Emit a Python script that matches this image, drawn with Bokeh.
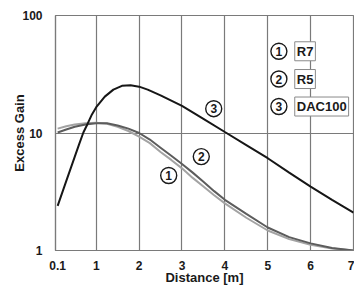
from bokeh.plotting import figure
from bokeh.models import Range1d, FixedTicker, Label, ColumnDataSource
from bokeh.core.properties import value
from bokeh.embed import file_html
from bokeh.resources import INLINE

# ---- data ----
x_ticks = [0.1, 1, 2, 3, 4, 5, 6, 7]
x_tick_labels = ["0.1", "1", "2", "3", "4", "5", "6", "7"]
y_ticks = [1, 10, 100]
y_tick_labels = ["1", "10", "100"]

series_names = ["R7", "R5", "DAC100"]
series_ids = ["1", "2", "3"]

x_gray = [0.1, 0.3, 0.5, 0.75, 1.0, 1.25, 1.5, 1.75, 2.0, 2.25, 2.5, 2.75,
          3.0, 3.25, 3.5, 3.75, 4.0, 4.5, 5.0, 5.5, 6.0, 6.5, 7.0]
r7 = [10.9, 11.4, 11.8, 12.1, 12.2, 12.0, 11.3, 10.4, 9.3, 8.2, 6.9, 5.9,
      5.0, 4.15, 3.5, 2.95, 2.52, 1.9, 1.48, 1.25, 1.12, 1.04, 1.0]
r5 = [10.1, 10.7, 11.3, 11.8, 12.1, 12.1, 11.6, 10.9, 10.0, 8.8, 7.5, 6.4,
      5.45, 4.6, 3.85, 3.2, 2.7, 2.05, 1.57, 1.3, 1.15, 1.05, 1.0]

x_dac = [0.1, 0.3, 0.5, 0.6, 0.7, 0.8, 0.9, 1.0, 1.2, 1.4, 1.6, 1.8, 2.0,
         2.2, 2.5, 3.0, 3.5, 4.0, 4.5, 5.0, 5.5, 6.0, 6.5, 7.0]
dac100 = [2.4, 3.9, 6.3, 8.0, 10.1, 12.0, 14.4, 16.6, 20.4, 23.4, 25.2, 25.5,
          24.8, 23.4, 20.9, 17.0, 13.2, 10.2, 7.9, 6.1, 4.6, 3.5, 2.7, 2.1]

FONT = "Liberation Sans"
GRID = "#7a7a7a"

p = figure(width=354, height=287, y_axis_type="log",
           x_range=Range1d(0.05, 7.0), y_range=Range1d(1, 100),
           output_backend="svg", toolbar_location=None,
           min_border_left=55, min_border_right=1, min_border_top=15,
           min_border_bottom=37)

p.background_fill_color = "white"
p.border_fill_color = "white"
p.outline_line_color = GRID
p.outline_line_width = 1.2

# axes
for ax in (p.xaxis[0], p.yaxis[0]):
    ax.major_tick_line_color = None
    ax.minor_tick_line_color = None
    ax.axis_line_color = GRID
    ax.axis_line_width = 1.2
    ax.major_label_text_font = FONT
    ax.major_label_text_font_style = "bold"
    ax.major_label_text_font_size = "12px"
    ax.major_label_text_color = "#1a1a1a"
    ax.axis_label_text_font = FONT
    ax.axis_label_text_font_style = "bold"
    ax.axis_label_text_font_size = "13px"
    ax.axis_label_text_color = "#1a1a1a"

p.xaxis.ticker = FixedTicker(ticks=x_ticks)
p.xaxis.major_label_overrides = dict(zip(x_ticks, x_tick_labels))
p.yaxis.ticker = FixedTicker(ticks=y_ticks)
p.yaxis.major_label_overrides = dict(zip(y_ticks, y_tick_labels))
p.xaxis.axis_label = "Distance [m]"
p.yaxis.axis_label = "Excess Gain"
p.xaxis.major_label_standoff = 4
p.yaxis.major_label_standoff = 7
p.xaxis.axis_label_standoff = -3
p.yaxis.axis_label_standoff = -8

p.xgrid.ticker = FixedTicker(ticks=x_ticks[1:-1])
p.ygrid.ticker = FixedTicker(ticks=y_ticks[1:-1])
p.xgrid.grid_line_color = GRID
p.ygrid.grid_line_color = GRID
p.xgrid.grid_line_width = 1.2
p.ygrid.grid_line_width = 1.2

# curves
p.line(x_gray, r7, line_color="#a3a3a3", line_width=2)
p.line(x_gray, r5, line_color="#5c5c5c", line_width=2)
p.line(x_dac, dac100, line_color="#161616", line_width=2)

# numbered circle markers: on curves and in legend
mark_src = ColumnDataSource(dict(
    x=[2.69, 3.45, 3.74, 5.26, 5.26, 5.26],
    y=[4.35, 6.3, 16.1, 49.6, 28.8, 16.8],
    t=series_ids + series_ids,
))
p.scatter("x", "y", source=mark_src, marker="circle", size=16,
          fill_color="white", line_color="#1a1a1a", line_width=1.4)
p.text("x", "y", text="t", source=mark_src, text_align="center",
       text_baseline="middle", text_font=value(FONT),
       text_font_style="bold", text_font_size="12px", text_color="#1a1a1a")

for name, yv in zip(series_names, [49.6, 28.8, 16.8]):
    p.add_layout(Label(x=5.63, y=yv, text=name, text_baseline="middle",
                       text_align="left", text_font=FONT,
                       text_font_style="bold", text_font_size="13px",
                       text_color="#1a1a1a", border_line_color="#8a8a8a",
                       border_line_width=1, background_fill_color="white",
                       padding=2))

open("out.html", "w").write(file_html(p, INLINE))
